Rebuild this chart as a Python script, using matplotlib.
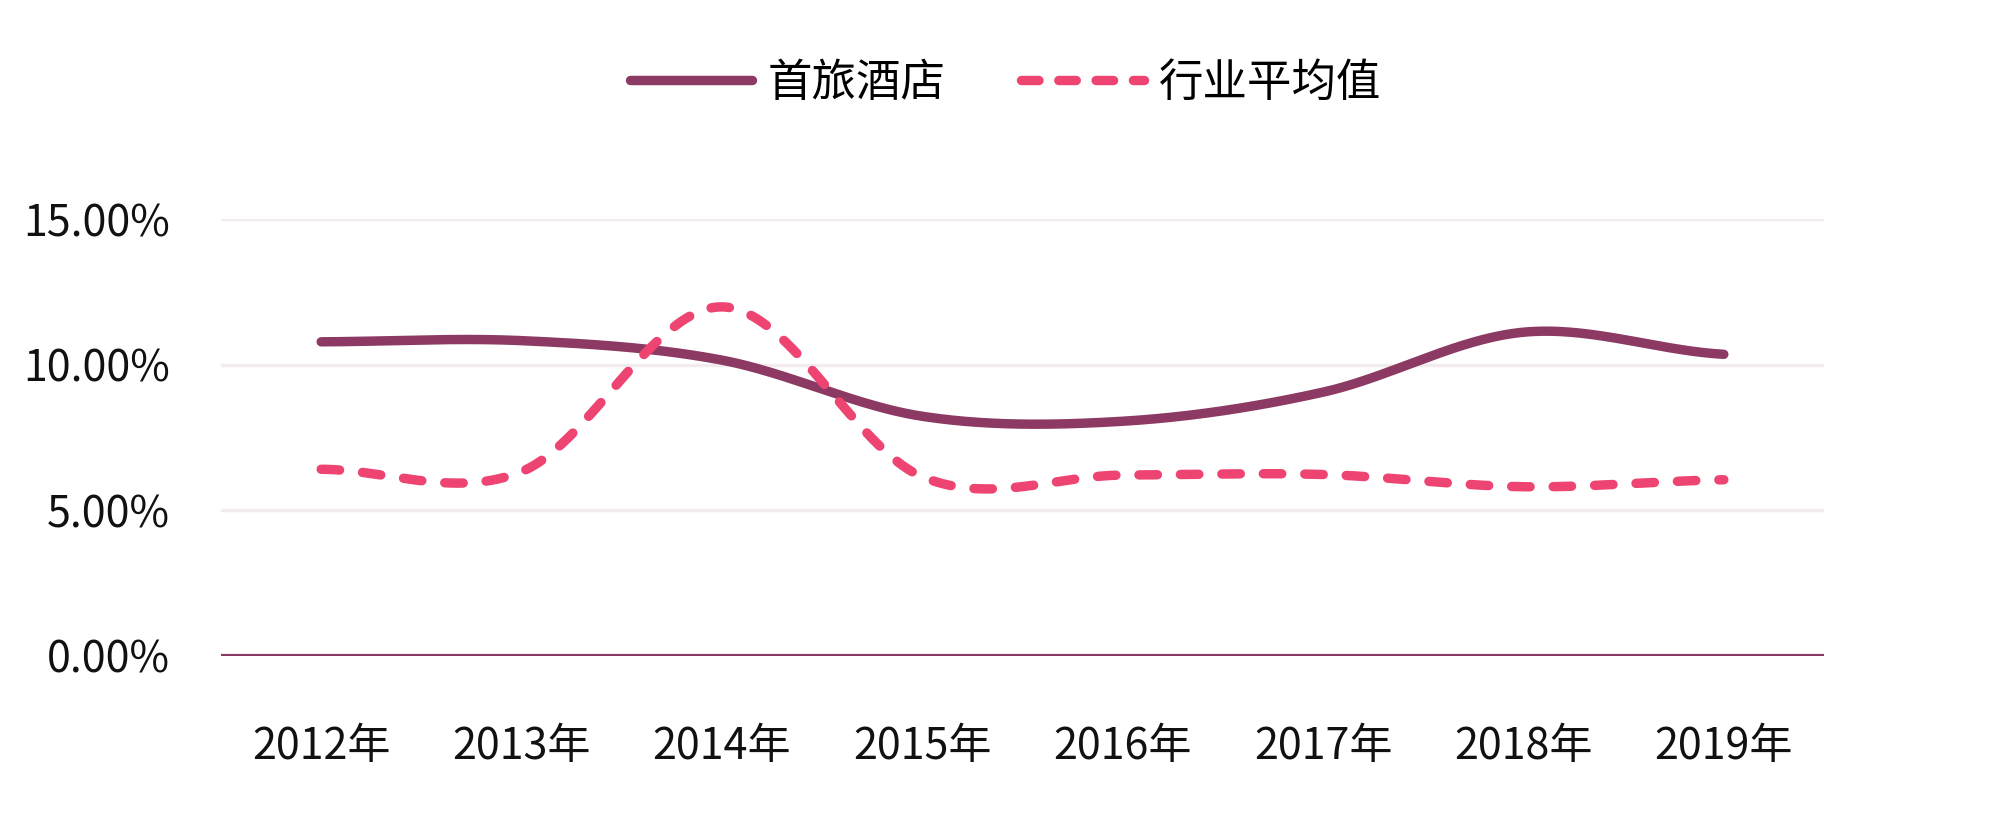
import numpy as np
import matplotlib
matplotlib.use("Agg")
import matplotlib.pyplot as plt
from matplotlib.lines import Line2D

plt.rcParams['font.family'] = ['Noto Sans CJK SC', 'DejaVu Sans']

categories = ["2012年", "2013年", "2014年", "2015年", "2016年", "2017年", "2018年", "2019年"]
shoulv = [10.78, 10.82, 10.15, 8.22, 8.05, 9.05, 11.11, 10.35]
industry = [6.40, 6.32, 11.98, 6.14, 6.20, 6.22, 5.80, 6.04]
series_names = ["首旅酒店", "行业平均值"]
yticks = [0, 5, 10, 15]
ytick_labels = ["0.00%", "5.00%", "10.00%", "15.00%"]

C_SOLID = "#8C3A63"
C_DASH = "#EE4471"


def smooth(y, n=60):
    """Catmull-Rom (Excel-style) smoothing through the data points."""
    y = np.asarray(y, float)
    x = np.arange(len(y), dtype=float)
    m = np.zeros_like(y)
    m[1:-1] = (y[2:] - y[:-2]) / 2.0
    m[0] = (y[1] - y[0]) / 2.0
    m[-1] = (y[-1] - y[-2]) / 2.0
    xs, ys = [], []
    for i in range(len(y) - 1):
        t = np.linspace(0, 1, n, endpoint=(i == len(y) - 2))
        h00 = 2 * t**3 - 3 * t**2 + 1
        h10 = t**3 - 2 * t**2 + t
        h01 = -2 * t**3 + 3 * t**2
        h11 = t**3 - t**2
        ys.append(h00 * y[i] + h10 * m[i] + h01 * y[i + 1] + h11 * m[i + 1])
        xs.append(x[i] + t)
    return np.concatenate(xs), np.concatenate(ys)


fig = plt.figure(figsize=(20, 8.14), dpi=100)
ax = fig.add_axes([0.1105, 1 - 655.5 / 814, 0.912 - 0.1105, (655.5 - 219) / 814])

for v in yticks[1:]:
    ax.axhline(v, color="#F2ECEE", lw=2.4, zorder=0)
ax.axhline(0, color=C_SOLID, lw=3.0, zorder=1)

lw = 6.8
xs, ys = smooth(shoulv)
ax.plot(xs, ys, color=C_SOLID, lw=lw, solid_capstyle="round", zorder=3, clip_on=False)
xs2, ys2 = smooth(industry)
l2, = ax.plot(xs2, ys2, color=C_DASH, lw=lw, dash_capstyle="round", zorder=4, clip_on=False)
l2.set_dashes((1.95, 2.44))

ax.set_xlim(-0.5, len(categories) - 0.5)
ax.set_ylim(0, 15)
ax.set_xticks(range(len(categories)))
ax.set_xticklabels(categories)
ax.set_yticks(yticks)
ax.set_yticklabels(ytick_labels)
ax.tick_params(axis="both", length=0, labelsize=31, colors="#111111")
ax.tick_params(axis="y", pad=37)
ax.tick_params(axis="x", pad=50)
for s in ax.spines.values():
    s.set_visible(False)

h1 = Line2D([], [], color=C_SOLID, lw=lw, solid_capstyle="round")
h2 = Line2D([], [], color=C_DASH, lw=lw, dash_capstyle="round")
h2.set_dashes((1.85, 2.1))
fig.legend([h1, h2], series_names, loc="center left", bbox_to_anchor=(630 / 2000, 1 - 83 / 814),
           ncol=2, frameon=False, fontsize=32, handlelength=2.75, handletextpad=0.35,
           columnspacing=1.7, borderpad=0, borderaxespad=0)

fig.savefig("out.png", dpi=100, facecolor="white")
